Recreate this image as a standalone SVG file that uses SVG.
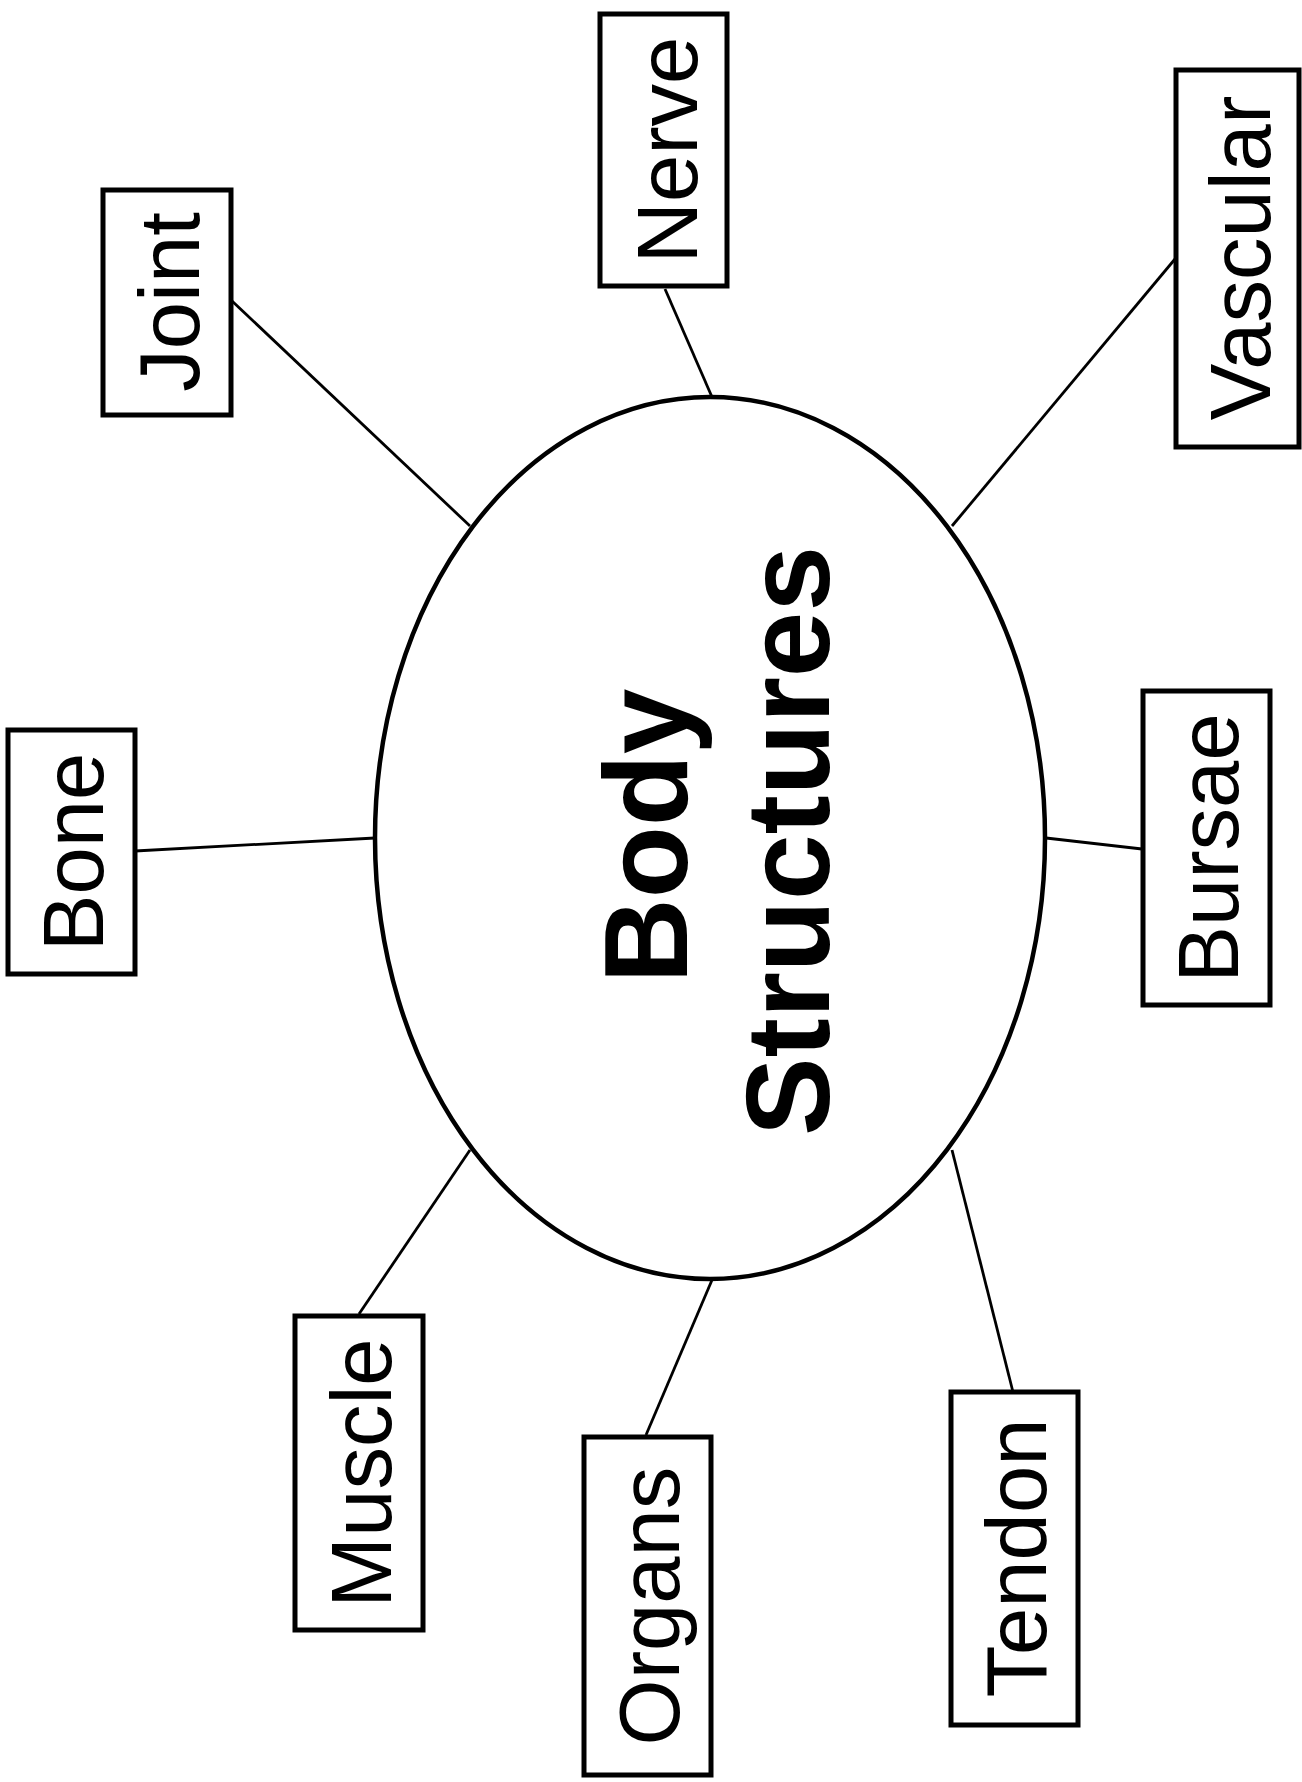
<svg xmlns="http://www.w3.org/2000/svg" width="1302" height="1782" viewBox="0 0 1302 1782">
<style>
.box{fill:#fff;stroke:#000;stroke-width:5}
.lbl{font-family:"Liberation Sans",Arial,sans-serif;font-size:85px;fill:#000;text-anchor:middle}
.title{font-family:"Liberation Sans",Arial,sans-serif;font-size:118px;font-weight:bold;fill:#000;text-anchor:middle}
.conn line{stroke:#000;stroke-width:2.8}
</style>
<rect width="1302" height="1782" fill="#fff"/>
<g id="connectors" class="conn">
<line x1="665" y1="289" x2="712" y2="397"/>
<line x1="232" y1="301" x2="470" y2="526"/>
<line x1="1175" y1="259" x2="952" y2="526"/>
<line x1="135" y1="851" x2="375" y2="838"/>
<line x1="1046" y1="838" x2="1142" y2="849"/>
<line x1="359" y1="1314" x2="470" y2="1150"/>
<line x1="646" y1="1435" x2="712" y2="1280"/>
<line x1="1013" y1="1392" x2="952" y2="1150"/>
</g>
<g id="center">
<ellipse cx="710" cy="838" rx="335" ry="441" fill="#fff" stroke="#000" stroke-width="4.5"/>
<text class="title" transform="translate(687,836) rotate(-90)">Body</text>
<text class="title" transform="translate(829,841) rotate(-90)">Structures</text>
</g>
<g id="nerve"><rect class="box" x="600" y="14" width="127" height="272"/><text class="lbl" transform="translate(697,150) rotate(-90)">Nerve</text></g>
<g id="joint"><rect class="box" x="103" y="190" width="128" height="225"/><text class="lbl" transform="translate(199,302) rotate(-90)">Joint</text></g>
<g id="vascular"><rect class="box" x="1176" y="70" width="123" height="377"/><text class="lbl" transform="translate(1270,258) rotate(-90)">Vascular</text></g>
<g id="bone"><rect class="box" x="8" y="730" width="127" height="244"/><text class="lbl" transform="translate(103,852) rotate(-90)">Bone</text></g>
<g id="bursae"><rect class="box" x="1143" y="691" width="127" height="314"/><text class="lbl" transform="translate(1238,848) rotate(-90)">Bursae</text></g>
<g id="muscle"><rect class="box" x="295" y="1316" width="128" height="314"/><text class="lbl" transform="translate(391,1473) rotate(-90)">Muscle</text></g>
<g id="organs"><rect class="box" x="584" y="1437" width="127" height="338"/><text class="lbl" transform="translate(679,1606) rotate(-90)">Organs</text></g>
<g id="tendon"><rect class="box" x="951" y="1392" width="127" height="333"/><text class="lbl" transform="translate(1046,1558) rotate(-90)">Tendon</text></g>
</svg>
